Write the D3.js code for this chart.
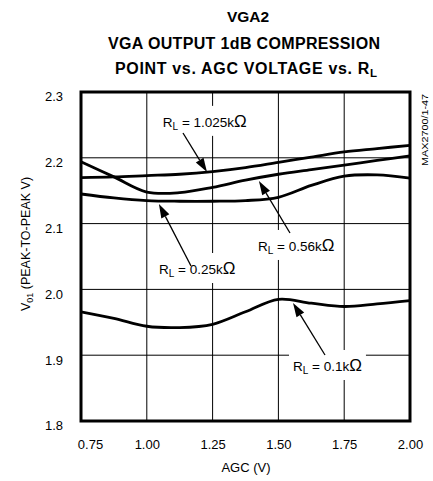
<!DOCTYPE html>
<html>
<head>
<meta charset="utf-8">
<script src="https://cdn.jsdelivr.net/npm/d3@7"></script>
<style>
  html, body { margin: 0; padding: 0; background: #fff; }
  svg { display: block; font-family: "Liberation Sans", Arial, Helvetica, sans-serif; }
</style>
</head>
<body>
<svg id="chart" width="433" height="481"></svg>
<script>
// ---- data ----
const agc = [0.75, 0.875, 1.0, 1.125, 1.25, 1.375, 1.5, 1.625, 1.75, 1.875, 2.0];
const rl1025 = [2.170, 2.171, 2.173, 2.175, 2.179, 2.185, 2.193, 2.201, 2.209, 2.214, 2.219];
const rl056  = [2.194, 2.171, 2.148, 2.147, 2.155, 2.166, 2.175, 2.182, 2.189, 2.196, 2.203];
const rl025  = [2.145, 2.139, 2.135, 2.134, 2.134, 2.135, 2.140, 2.158, 2.172, 2.174, 2.169];
const rl01   = [1.966, 1.956, 1.944, 1.942, 1.947, 1.966, 1.985, 1.979, 1.974, 1.978, 1.983];
const xTicks = [0.75, 1.00, 1.25, 1.50, 1.75, 2.00];
const yTicks = [1.8, 1.9, 2.0, 2.1, 2.2, 2.3];
const titleLines = ["VGA2", "VGA OUTPUT 1dB COMPRESSION", "POINT vs.  AGC VOLTAGE vs.  R"];
// annotation labels: value text, text anchor (AGC, V), arrow tail, arrow tip (AGC, V)
const annLabels = ["1.025k", "0.56k", "0.25k", "0.1k"];
const annText = [[1.061, 2.247], [1.4225, 2.0584], [1.0464, 2.0234], [1.5555, 1.876]];
const annTail = [[1.1375, 2.2377], [1.544, 2.0857], [1.168, 2.0356], [1.677, 1.9003]];
const annTip  = [[1.2287, 2.1784], [1.426, 2.1647], [1.046, 2.1298], [1.5555, 1.9793]];

// ---- layout ----
const L = 81, R = 410, T = 92, B = 421;
const svg = d3.select("#chart");
svg.append("rect").attr("width", 433).attr("height", 481).attr("fill", "#fff");

const x = d3.scaleLinear().domain([0.75, 2.0]).range([L, R]);
const y = d3.scaleLinear().domain([1.8, 2.3]).range([B, T]);

// grid
const g = svg.append("g");
g.selectAll("line.vx").data(xTicks.slice(1, -1)).join("line")
  .attr("x1", d => x(d)).attr("x2", d => x(d)).attr("y1", T).attr("y2", B)
  .attr("stroke", "#000").attr("stroke-width", 1);
g.selectAll("line.hy").data(yTicks.slice(1, -1)).join("line")
  .attr("x1", L).attr("x2", R).attr("y1", d => y(d)).attr("y2", d => y(d))
  .attr("stroke", "#000").attr("stroke-width", 1);

// annotation label backgrounds (hide grid)
const bgLayer = svg.append("g");

// curves
const series = [rl1025, rl056, rl025, rl01];
const line = d3.line().x((d, i) => x(agc[i])).y(d => y(d)).curve(d3.curveCatmullRom.alpha(0.5));
svg.append("g").selectAll("path").data(series).join("path")
  .attr("d", d => line(d)).attr("fill", "none").attr("stroke", "#000")
  .attr("stroke-width", 2.8).attr("stroke-linejoin", "round");

// frame
svg.append("rect").attr("x", L).attr("y", T).attr("width", R - L).attr("height", B - T)
  .attr("fill", "none").attr("stroke", "#000").attr("stroke-width", 3);

// axes labels
const xAxis = d3.axisBottom(x).tickValues(xTicks).tickFormat(d3.format(".2f")).tickSize(0).tickPadding(19);
const xa = svg.append("g").attr("transform", `translate(0,${B})`).call(xAxis);
xa.select(".domain").remove();
xa.selectAll("text").attr("font-size", 13).attr("font-family", "Liberation Sans, Arial, sans-serif").attr("fill", "#000")
  .attr("dx", (d, i) => i === 0 ? 9 : 0);

const yAxis = d3.axisLeft(y).tickValues(yTicks).tickFormat(d3.format(".1f")).tickSize(0).tickPadding(18);
const ya = svg.append("g").attr("transform", `translate(${L},0)`).call(yAxis);
ya.select(".domain").remove();
ya.selectAll("text").attr("font-size", 13).attr("font-family", "Liberation Sans, Arial, sans-serif").attr("fill", "#000")
  .attr("dy", "0.68em");

svg.append("text").attr("x", 246).attr("y", 472).attr("text-anchor", "middle")
  .attr("font-size", 13).text("AGC (V)");

const yt = svg.append("text").attr("transform", "translate(30,244) rotate(-90)")
  .attr("text-anchor", "middle").attr("font-size", 12.5);
yt.append("tspan").text("V");
yt.append("tspan").attr("font-size", 9).attr("dy", 3).text("01");
yt.append("tspan").attr("dy", -3).text(" (PEAK-TO-PEAK V)");

// title
const tl = svg.append("g").attr("font-weight", "bold").attr("font-size", 16).attr("text-anchor", "middle")
  .style("white-space", "pre");
tl.append("text").attr("x", 248).attr("y", 22).attr("font-size", 15.5).text(titleLines[0]);
tl.append("text").attr("x", 244).attr("y", 49).attr("textLength", 272).attr("lengthAdjust", "spacing").text(titleLines[1]);
const t3 = tl.append("text").attr("x", 246).attr("y", 74).attr("textLength", 262).attr("lengthAdjust", "spacing");
t3.append("tspan").text(titleLines[2]);
t3.append("tspan").attr("font-size", 11.5).attr("dy", 3).text("L");

// side code
svg.append("text").attr("transform", "translate(428,130) rotate(-90)").attr("text-anchor", "middle")
  .attr("font-size", 8.5).attr("textLength", 72).attr("lengthAdjust", "spacingAndGlyphs").text("MAX2700/1-47");

// annotations
const annG = svg.append("g");
annLabels.forEach((lab, i) => {
  const tx = x(annText[i][0]), ty = y(annText[i][1]);
  const t = annG.append("text").attr("x", tx).attr("y", ty).attr("font-size", 13.5);
  t.append("tspan").text("R");
  t.append("tspan").attr("font-size", 10).attr("dy", 3).text("L");
  t.append("tspan").attr("dy", -3).text(" = " + lab);
  t.append("tspan").attr("font-size", 17).text("\u03A9");
  const bb = t.node().getBBox();
  bgLayer.append("rect").attr("x", bb.x - 4).attr("y", ty - 21).attr("width", bb.width + 8).attr("height", 30)
    .attr("fill", "#fff");
  // arrow
  const x1 = x(annTail[i][0]), y1 = y(annTail[i][1]), x2 = x(annTip[i][0]), y2 = y(annTip[i][1]);
  const ang = Math.atan2(y2 - y1, x2 - x1);
  const hl = 14, hw = 4.5;
  const bx = x2 - hl * Math.cos(ang), by = y2 - hl * Math.sin(ang);
  annG.append("line").attr("x1", x1).attr("y1", y1).attr("x2", bx).attr("y2", by)
    .attr("stroke", "#000").attr("stroke-width", 1.3);
  const px = -Math.sin(ang), py = Math.cos(ang);
  annG.append("path").attr("d", `M${x2},${y2}L${bx + px * hw},${by + py * hw}L${bx - px * hw},${by - py * hw}Z`)
    .attr("fill", "#000");
});
</script>
</body>
</html>
